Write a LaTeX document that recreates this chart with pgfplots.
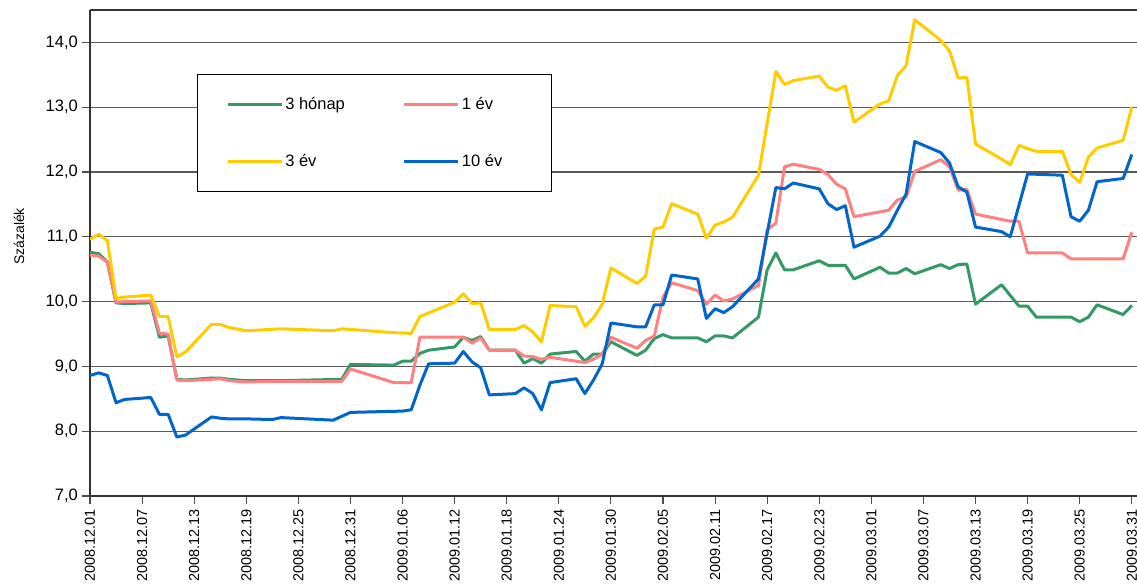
\documentclass[border=0pt]{standalone}
\usepackage{fontspec}
\setmainfont{Liberation Sans}
\usepackage{pgfplots}
\pgfplotsset{compat=1.18}

\definecolor{honap}{HTML}{339966}
\definecolor{egyev}{HTML}{FF8080}
\definecolor{haromev}{HTML}{FFCC00}
\definecolor{tizev}{HTML}{0066CC}

\begin{document}
\fontsize{14.5}{17}\selectfont
\begin{tikzpicture}
\begin{axis}[
    scale only axis,
    width=1047pt, height=486pt,
    xmin=0, xmax=120.6,
    ymin=7, ymax=14.5,
    axis x line*=bottom,
    axis y line*=left,
    axis line style={line width=1.3pt, black!80},
    tick align=outside,
    major tick length=8pt,
    tick style={line width=1.1pt, black!70},
    xtick={0,6,...,120},
    xticklabels={2008.12.01,2008.12.07,2008.12.13,2008.12.19,2008.12.25,2008.12.31,
        2009.01.06,2009.01.12,2009.01.18,2009.01.24,2009.01.30,2009.02.05,2009.02.11,
        2009.02.17,2009.02.23,2009.03.01,2009.03.07,2009.03.13,2009.03.19,2009.03.25,2009.03.31},
    xticklabel style={rotate=90, anchor=east, font=\fontsize{14.5}{17}\selectfont},
    ytick={7,8,...,14},
    yticklabel style={font=\fontsize{16.5}{19}\selectfont, inner xsep=4pt,
        /pgf/number format/fixed, /pgf/number format/fixed zerofill,
        /pgf/number format/precision=1, /pgf/number format/use comma},
    /pgf/number format/assume math mode=true,
    ymajorgrids,
    grid style={line width=1.1pt, black!65},
    ylabel={Százalék},
    ylabel style={at={(axis description cs:-0.0678,0.534)}, anchor=center, font=\fontsize{14}{16}\selectfont},
    legend columns=2,
    legend cell align=left,
    legend image code/.code={\draw[#1, line width=3pt] (0pt,0pt) -- (54pt,0pt);},
    legend style={at={(0.102,0.868)}, anchor=north west, draw=black, line width=1pt,
        font=\fontsize{16.5}{19}\selectfont, inner xsep=29pt, inner ysep=21pt,
        row sep=38pt,
        /tikz/every even column/.append style={column sep=56pt}},
    every axis plot/.append style={line width=3pt, line join=round},
]
\coordinate (bl) at (rel axis cs:0,0);
\coordinate (tr) at (rel axis cs:1,1);
\draw[line width=1.1pt, black!80] (rel axis cs:0,1) -- (rel axis cs:1,1);

% 3 honap
\addplot[honap] coordinates {
(0,10.76)(1,10.74)(2,10.61)(3,9.98)(4,9.97)(7,9.98)(8,9.45)(9,9.47)(10,8.80)(11,8.79)
(14,8.82)(15,8.82)(16,8.80)(18,8.78)(22,8.78)(29,8.80)(30,9.03)(35,9.02)(36,9.08)(37,9.08)
(38,9.20)(39,9.25)(42,9.30)(43,9.45)(44,9.40)(45,9.46)(46,9.25)(49,9.25)(50,9.05)(51,9.12)
(52,9.05)(53,9.19)(56,9.23)(57,9.08)(58,9.19)(59,9.19)(60,9.38)(63,9.17)(64,9.25)(65,9.43)
(66,9.49)(67,9.44)(70,9.44)(71,9.38)(72,9.47)(73,9.47)(74,9.44)(77,9.76)(78,10.49)(79,10.75)
(80,10.49)(81,10.49)(84,10.63)(85,10.56)(86,10.56)(87,10.56)(88,10.35)(91,10.53)(92,10.44)
(93,10.44)(94,10.51)(95,10.43)(98,10.57)(99,10.51)(100,10.57)(101,10.58)(102,9.96)(105,10.26)
(107,9.93)(108,9.93)(109,9.76)(112,9.76)(113,9.76)(114,9.69)(115,9.76)(116,9.95)(119,9.80)(120,9.94)
};
\addlegendentry{3 hónap}

% 1 ev
\addplot[egyev] coordinates {
(0,10.72)(1,10.70)(2,10.61)(3,9.99)(4,10.00)(7,10.01)(8,9.51)(9,9.50)(10,8.79)(11,8.78)
(14,8.80)(15,8.81)(16,8.78)(18,8.76)(22,8.77)(29,8.77)(30,8.96)(35,8.75)(37,8.75)(38,9.45)
(39,9.45)(42,9.45)(43,9.45)(44,9.36)(45,9.44)(46,9.25)(49,9.25)(50,9.16)(51,9.15)(52,9.11)
(53,9.14)(56,9.08)(57,9.06)(58,9.11)(59,9.19)(60,9.45)(63,9.28)(64,9.40)(65,9.47)(66,10.07)
(67,10.29)(70,10.17)(71,9.96)(72,10.10)(73,10.01)(74,10.04)(77,10.25)(78,11.11)(79,11.21)
(80,12.08)(81,12.12)(84,12.04)(85,11.96)(86,11.81)(87,11.74)(88,11.31)(92,11.41)(93,11.57)
(94,11.61)(95,12.01)(98,12.19)(99,12.08)(100,11.72)(101,11.73)(102,11.35)(106,11.24)(107,11.24)
(108,10.75)(112,10.75)(113,10.66)(119,10.66)(120,11.07)
};
\addlegendentry{1 év}

% 3 ev
\addplot[haromev] coordinates {
(0,10.96)(1,11.04)(2,10.94)(3,10.05)(4,10.07)(7,10.10)(8,9.77)(9,9.77)(10,9.15)(11,9.22)
(14,9.65)(15,9.65)(16,9.60)(18,9.55)(22,9.58)(28,9.55)(29,9.58)(30,9.57)(35,9.52)(37,9.51)
(38,9.77)(42,9.99)(43,10.12)(44,9.97)(45,9.98)(46,9.57)(49,9.57)(50,9.63)(51,9.53)(52,9.38)
(53,9.94)(56,9.92)(57,9.62)(58,9.75)(59,9.96)(60,10.52)(63,10.28)(64,10.39)(65,11.12)(66,11.15)
(67,11.51)(70,11.35)(71,10.98)(72,11.18)(73,11.23)(74,11.30)(77,11.95)(79,13.55)(80,13.35)
(81,13.41)(84,13.48)(85,13.31)(86,13.26)(87,13.33)(88,12.77)(91,13.05)(92,13.10)(93,13.49)
(94,13.64)(95,14.35)(98,14.03)(99,13.87)(100,13.45)(101,13.46)(102,12.43)(105,12.20)(106,12.11)
(107,12.41)(108,12.36)(109,12.32)(112,12.32)(113,11.96)(114,11.84)(115,12.23)(116,12.37)
(119,12.49)(120,13.00)
};
\addlegendentry{3 év}

% 10 ev
\addplot[tizev] coordinates {
(0,8.86)(1,8.90)(2,8.86)(3,8.44)(4,8.49)(7,8.52)(8,8.26)(9,8.26)(10,7.91)(11,7.94)
(14,8.22)(15,8.20)(16,8.19)(18,8.19)(21,8.18)(22,8.21)(28,8.17)(30,8.29)(36,8.31)(37,8.33)
(38,8.71)(39,9.04)(42,9.05)(43,9.23)(44,9.07)(45,8.98)(46,8.56)(49,8.58)(50,8.67)(51,8.58)
(52,8.33)(53,8.75)(56,8.81)(57,8.58)(58,8.79)(59,9.04)(60,9.67)(63,9.61)(64,9.61)(65,9.95)
(66,9.95)(67,10.41)(70,10.35)(71,9.74)(72,9.89)(73,9.83)(74,9.92)(77,10.35)(79,11.76)(80,11.74)
(81,11.83)(84,11.74)(85,11.51)(86,11.42)(87,11.48)(88,10.84)(91,11.01)(92,11.15)(93,11.41)
(94,11.66)(95,12.47)(98,12.30)(99,12.14)(100,11.77)(101,11.69)(102,11.15)(105,11.08)(106,11.00)
(108,11.97)(112,11.95)(113,11.31)(114,11.24)(115,11.41)(116,11.85)(119,11.90)(120,12.27)
};
\addlegendentry{10 év\hspace*{18pt}}
\end{axis}
\pgfresetboundingbox
\path ([xshift=-90pt,yshift=-89pt]bl) rectangle ([yshift=10pt]tr);
\end{tikzpicture}
\end{document}
